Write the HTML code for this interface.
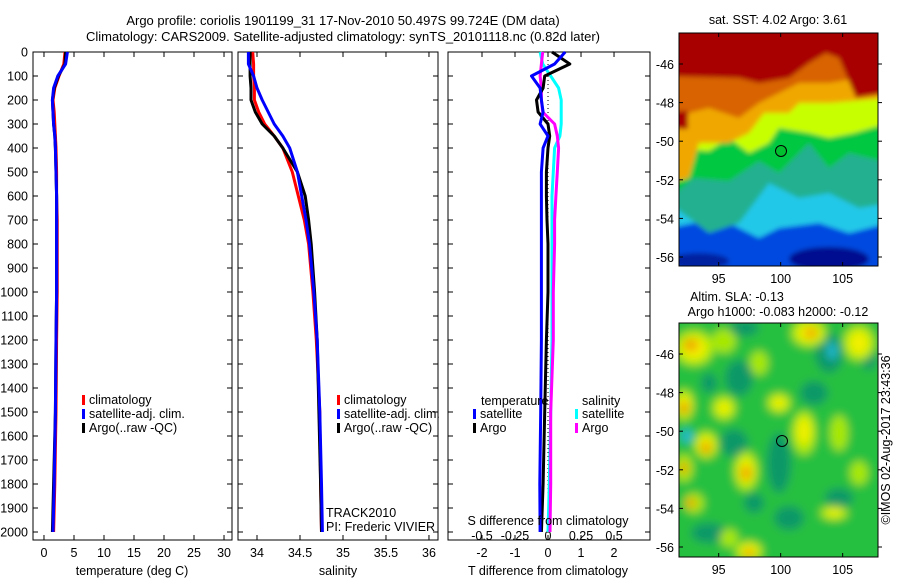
<!DOCTYPE html>
<html><head><meta charset="utf-8"><style>
body{margin:0;background:#fff;}
svg{display:block;font-family:"Liberation Sans",sans-serif;}
text{font-size:12.5px;fill:#000;}
</style></head><body>
<svg id="fig" width="900" height="580" viewBox="0 0 900 580">
<defs>
<filter id="blurA" x="-20%" y="-20%" width="140%" height="140%"><feGaussianBlur stdDeviation="2.5"/></filter>
<filter id="blurB" x="-30%" y="-30%" width="160%" height="160%"><feGaussianBlur stdDeviation="4.5"/></filter>
<clipPath id="clipTop"><rect x="0" y="0" width="199" height="233"/></clipPath>
<clipPath id="clipBot"><rect x="0" y="0" width="199" height="234"/></clipPath>
</defs>
<text x="343" y="25" text-anchor="middle" style="font-size:13px">Argo profile: coriolis 1901199_31 17-Nov-2010 50.497S 99.724E (DM data)</text>
<text x="343" y="41" text-anchor="middle" style="font-size:13px">Climatology: CARS2009. Satellite-adjusted climatology: synTS_20101118.nc (0.82d later)</text>
<g id="panels"></g>

<text x="778" y="24" text-anchor="middle">sat. SST: 4.02 Argo: 3.61</text>
<g transform="translate(679,33)">
<g clip-path="url(#clipTop)"><g filter="url(#blurA)">
<rect x="-10" y="-10" width="220" height="260" fill="#0048e0"/>
<polygon fill="#20c8e8" points="-10,-10 210,-10 210,190 170,200 140,190 100,195 80,205 40,185 -10,195"/>
<ellipse cx="150" cy="226" rx="40" ry="12" fill="#001090"/>
<ellipse cx="20" cy="228" rx="30" ry="8" fill="#0020a0"/>
<polygon fill="#20b090" points="-10,-10 210,-10 210,170 180,175 150,160 120,165 90,150 60,190 30,200 -10,170"/>
<polygon fill="#00c840" points="-10,-10 210,-10 210,130 170,120 150,135 130,110 100,140 80,128 50,148 15,145 -10,165"/>
<polygon fill="#c8ff00" points="-10,-10 210,-10 210,90 175,100 150,105 130,100 100,95 90,110 70,120 50,105 30,118 -10,115"/>
<polygon fill="#f0a800" points="-10,-10 210,-10 210,65 150,70 120,70 110,80 85,80 70,100 50,110 20,110 10,145 -10,150"/>
<polygon fill="#d86400" points="-10,-10 210,-10 210,40 150,50 120,50 100,60 80,70 60,85 30,75 -10,85"/>
<polygon fill="#a80000" points="-10,-10 210,-10 210,60 177,65 160,25 147,20 130,30 110,45 80,50 60,45 -10,43"/>
<rect x="-5" y="78" width="14" height="18" fill="#a80000"/>
</g></g>
<rect x="0" y="0" width="199" height="233" fill="none" stroke="#000" stroke-width="1"/>
<circle cx="102" cy="118" r="5.5" fill="#00c030" stroke="#000" stroke-width="1"/>
</g>
<g id="sstAxes"></g>

<text x="737" y="301" text-anchor="middle">Altim. SLA: -0.13</text>
<text x="778" y="316" text-anchor="middle">Argo h1000: -0.083 h2000: -0.12</text>
<g transform="translate(679,323)">
<g clip-path="url(#clipBot)"><g filter="url(#blurB)">
<rect x="-10" y="-10" width="220" height="260" fill="#28c040"/>
<g fill="#109868">
<ellipse cx="150" cy="30" rx="14" ry="20"/><ellipse cx="60" cy="55" rx="14" ry="18"/><ellipse cx="135" cy="70" rx="14" ry="12"/>
<ellipse cx="55" cy="120" rx="14" ry="14"/><ellipse cx="100" cy="140" rx="12" ry="30"/><ellipse cx="160" cy="175" rx="14" ry="10"/>
<ellipse cx="30" cy="210" rx="18" ry="10"/><ellipse cx="110" cy="195" rx="15" ry="12"/><ellipse cx="75" cy="180" rx="10" ry="10"/>
<ellipse cx="190" cy="35" rx="8" ry="12"/><ellipse cx="65" cy="5" rx="15" ry="8"/><ellipse cx="30" cy="60" rx="8" ry="10"/>
</g>
<g fill="#20b8d0"><ellipse cx="153" cy="28" rx="5" ry="9"/><ellipse cx="8" cy="113" rx="6" ry="7"/></g>
<g fill="#a8e800">
<ellipse cx="15" cy="25" rx="20" ry="18"/><ellipse cx="45" cy="18" rx="12" ry="12"/><ellipse cx="130" cy="10" rx="18" ry="14"/>
<ellipse cx="180" cy="20" rx="16" ry="18"/><ellipse cx="5" cy="82" rx="10" ry="16"/><ellipse cx="45" cy="85" rx="12" ry="12"/>
<ellipse cx="27" cy="122" rx="12" ry="14"/><ellipse cx="67" cy="148" rx="12" ry="20"/><ellipse cx="5" cy="145" rx="9" ry="14"/>
<ellipse cx="15" cy="180" rx="10" ry="10"/><ellipse cx="70" cy="228" rx="14" ry="10"/><ellipse cx="50" cy="215" rx="9" ry="9"/>
<ellipse cx="100" cy="80" rx="12" ry="10"/><ellipse cx="125" cy="110" rx="12" ry="22"/><ellipse cx="160" cy="110" rx="9" ry="18"/>
<ellipse cx="155" cy="190" rx="14" ry="7"/><ellipse cx="180" cy="150" rx="9" ry="12"/><ellipse cx="80" cy="40" rx="9" ry="12"/>
</g>
<g fill="#f0f000">
<ellipse cx="15" cy="25" rx="13" ry="12"/><ellipse cx="130" cy="10" rx="12" ry="9"/><ellipse cx="180" cy="20" rx="10" ry="12"/>
<ellipse cx="5" cy="82" rx="7" ry="10"/><ellipse cx="27" cy="122" rx="8" ry="9"/><ellipse cx="67" cy="148" rx="8" ry="13"/>
<ellipse cx="100" cy="80" rx="7" ry="6"/><ellipse cx="125" cy="108" rx="7" ry="14"/><ellipse cx="70" cy="228" rx="9" ry="7"/>
<ellipse cx="155" cy="190" rx="8" ry="4"/><ellipse cx="45" cy="85" rx="7" ry="7"/>
</g>
<g fill="#f0a000">
<ellipse cx="12" cy="22" rx="7" ry="6"/><ellipse cx="132" cy="10" rx="6" ry="5"/><ellipse cx="5" cy="85" rx="5" ry="6"/>
<ellipse cx="27" cy="125" rx="5" ry="6"/><ellipse cx="67" cy="150" rx="5" ry="7"/><ellipse cx="5" cy="145" rx="4" ry="6"/>
<ellipse cx="12" cy="180" rx="5" ry="5"/><ellipse cx="70" cy="230" rx="5" ry="4"/>
</g>
</g></g>
<rect x="0" y="0" width="199" height="234" fill="none" stroke="#000" stroke-width="1"/>
<circle cx="103" cy="118" r="5.5" fill="none" stroke="#000" stroke-width="1"/>
</g>
<g id="slaAxes"></g>
<text transform="translate(890,440) rotate(-90)" text-anchor="middle">©IMOS 02-Aug-2017 23:43:36</text>
</svg>
<script>
// ---- data ----
const depths = [0, 50, 100, 150, 200, 250, 300, 350, 400, 500, 600, 700, 800, 1000, 1200, 1500, 1800, 2000];
const tempClim = [3.5, 3.3, 2.5, 1.8, 1.5, 1.7, 1.8, 1.9, 2.0, 2.1, 2.1, 2.2, 2.2, 2.2, 2.1, 2.0, 1.8, 1.6];
const tempSat = [3.9, 3.6, 2.3, 1.6, 1.4, 1.5, 1.6, 1.8, 1.9, 2.0, 2.1, 2.1, 2.1, 2.1, 2.0, 1.9, 1.7, 1.5];
const tempArgo = [3.6, 3.5, 2.4, 1.7, 1.4, 1.5, 1.6, 1.8, 1.9, 2.0, 2.1, 2.1, 2.1, 2.1, 2.0, 1.9, 1.6, 1.4];
const salClim = [33.95, 33.96, 33.96, 33.97, 33.97, 34.02, 34.09, 34.2, 34.3, 34.41, 34.48, 34.55, 34.6, 34.65, 34.69, 34.73, 34.74, 34.75];
const salSat = [33.9, 33.9, 33.96, 34.0, 34.06, 34.13, 34.2, 34.3, 34.38, 34.47, 34.52, 34.57, 34.61, 34.66, 34.7, 34.73, 34.75, 34.76];
const salArgo = [33.92, 33.92, 33.92, 33.93, 33.93, 33.98, 34.06, 34.2, 34.3, 34.47, 34.56, 34.6, 34.63, 34.67, 34.7, 34.72, 34.74, 34.75];
const dtSat = [0.52, 0.2, -0.5, -0.24, -0.2, -0.15, -0.24, 0.0, -0.15, -0.2, -0.2, -0.2, -0.2, -0.2, -0.2, -0.22, -0.25, -0.24];
const dtArgo = [0.12, 0.66, -0.1, -0.15, -0.35, -0.3, 0.0, 0.05, 0.0, -0.05, -0.05, -0.03, 0.0, 0.0, -0.05, -0.1, -0.15, -0.2];
const dsSat = [-0.06, -0.04, 0.02, 0.08, 0.1, 0.1, 0.1, 0.09, 0.05, 0.04, 0.03, 0.03, 0.03, 0.03, 0.03, 0.02, 0.01, 0.0];
const dsArgo = [-0.04, -0.05, -0.06, -0.05, -0.05, -0.04, 0.05, 0.07, 0.08, 0.07, 0.06, 0.05, 0.05, 0.04, 0.04, 0.02, 0.02, 0.015];
const depthTicks = [0,100,200,300,400,500,600,700,800,900,1000,1100,1200,1300,1400,1500,1600,1700,1800,1900,2000];
const tempTicks = [0,5,10,15,20,25,30];
const salTicks = [34,34.5,35,35.5,36];
const dtTicks = [-2,-1,0,1,2];
const dsTicks = [-0.5,-0.25,0,0.25,0.5];
const lonTicks = [95,100,105];
const latTicks = [-46,-48,-50,-52,-54,-56];

const NS = 'http://www.w3.org/2000/svg';
const root = document.getElementById('panels');
function el(tag, attrs, parent, txt){ const e=document.createElementNS(NS,tag); for(const k in attrs) e.setAttribute(k,attrs[k]); if(txt!==undefined) e.textContent=txt; (parent||root).appendChild(e); return e; }
const yTop=52, pxPerM=0.24, yBot=540;
const yScale = d => yTop + d*pxPerM;

function panel(name, x0, x1, dmin, dmax){
  const g = el('g',{});
  
  
  const r = el('rect',{x:x0,y:yTop,width:x1-x0,height:yBot-yTop,fill:'none',stroke:'#000','stroke-width':1},g);
  
  
  const xs = v => x0 + (v-dmin)/(dmax-dmin)*(x1-x0);
  return {g, xs};
}
function line(g, xs, vals, color, name, scaleFn){
  const pts = vals.map((v,i)=> (scaleFn?scaleFn(v):xs(v)).toFixed(1)+','+yScale(depths[i]).toFixed(1)).join(' ');
  const p = el('polyline',{points:pts,fill:'none',stroke:color,'stroke-width':3,'stroke-linejoin':'round'},g);
  
  
}
function yticks(g, x0, x1, labels){
  depthTicks.forEach(d=>{
    const y=yScale(d);
    el('line',{x1:x0,y1:y,x2:x0+5,y2:y,stroke:'#000'},g);
    el('line',{x1:x1-5,y1:y,x2:x1,y2:y,stroke:'#000'},g);
    if(labels){ const t=el('text',{x:x0-5,y:y+4.5,'text-anchor':'end'},g,String(d));
      
       }
  });
}
function xticks(g, xs, ticks, fmt, labelY){
  ticks.forEach(v=>{
    const x=xs(v);
    el('line',{x1:x,y1:yBot,x2:x,y2:yBot-5,stroke:'#000'},g);
    el('line',{x1:x,y1:yTop,x2:x,y2:yTop+5,stroke:'#000'},g);
    const t=el('text',{x:x,y:labelY,'text-anchor':'middle'},g,fmt(v));
    
    
  });
}
function legend(g, x, y, items){
  items.forEach((it,i)=>{
    const yy=y+i*14;
    el('rect',{x:x,y:yy-9,width:3,height:10,fill:it[1]},g);
    const t=el('text',{x:x+7,y:yy},g,it[0]);
    
    
  });
}

const P1 = panel('temperature-panel', 33, 232, -1.83, 31.33);
yticks(P1.g, 33, 232, true);
xticks(P1.g, P1.xs, tempTicks, String, 557);
line(P1.g, P1.xs, tempClim, '#ff0000', 'temp-climatology-line');
line(P1.g, P1.xs, tempArgo, '#000000', 'temp-argo-line');
line(P1.g, P1.xs, tempSat, '#0000ff', 'temp-satellite-line');
legend(P1.g, 82, 404, [['climatology','#ff0000'],['satellite-adj. clim.','#0000ff'],['Argo(..raw -QC)','#000000']]);
let t=el('text',{x:132,y:575,'text-anchor':'middle'},P1.g,'temperature (deg C)');
 

const P2 = panel('salinity-panel', 238, 438, 33.779, 36.105);
yticks(P2.g, 238, 438, false);
xticks(P2.g, P2.xs, salTicks, String, 557);
line(P2.g, P2.xs, salClim, '#ff0000', 'sal-climatology-line');
line(P2.g, P2.xs, salArgo, '#000000', 'sal-argo-line');
line(P2.g, P2.xs, salSat, '#0000ff', 'sal-satellite-line');
legend(P2.g, 337, 404, [['climatology','#ff0000'],['satellite-adj. clim.','#0000ff'],['Argo(..raw -QC)','#000000']]);
t=el('text',{x:326,y:517},P2.g,'TRACK2010');  
t=el('text',{x:326,y:531},P2.g,'PI: Frederic VIVIER');  
t=el('text',{x:338,y:575,'text-anchor':'middle'},P2.g,'salinity');  

const P3 = panel('difference-panel', 448, 650, -3.03, 3.09);
const dsScale = v => P3.xs(v*4);
yticks(P3.g, 448, 650, false);
xticks(P3.g, P3.xs, dtTicks, String, 557);
el('line',{x1:P3.xs(0),y1:yTop,x2:P3.xs(0),y2:yBot,stroke:'#000','stroke-dasharray':'1,3'},P3.g);
dsTicks.forEach(v=>{ const tt=el('text',{x:dsScale(v),y:540,'text-anchor':'middle'},P3.g,String(v));
    });
line(P3.g, P3.xs, dsSat, '#00ffff', 's-diff-satellite-line', dsScale);
line(P3.g, P3.xs, dsArgo, '#ff00ff', 's-diff-argo-line', dsScale);
line(P3.g, P3.xs, dtArgo, '#000000', 't-diff-argo-line');
line(P3.g, P3.xs, dtSat, '#0000ff', 't-diff-satellite-line');
t=el('text',{x:548,y:525,'text-anchor':'middle'},P3.g,'S difference from climatology');  
t=el('text',{x:548,y:575,'text-anchor':'middle'},P3.g,'T difference from climatology');  
t=el('text',{x:481,y:405},P3.g,'temperature');  
t=el('text',{x:582,y:405},P3.g,'salinity');  
legend(P3.g, 473, 418, [['satellite','#0000ff'],['Argo','#000000']]);
legend(P3.g, 575, 418, [['satellite','#00ffff'],['Argo','#ff00ff']]);

function mapAxes(gid, x0, y0, w, h, ySc){
  const g=document.getElementById(gid);
  const lonS = v => x0 + (v-91.8)/(107.85-91.8)*w;
  lonTicks.forEach(v=>{ const x=lonS(v);
    el('line',{x1:x,y1:y0+h,x2:x,y2:y0+h-4,stroke:'#000'},g);
    el('line',{x1:x,y1:y0,x2:x,y2:y0+4,stroke:'#000'},g);
    const tt=el('text',{x:x,y:y0+h+17,'text-anchor':'middle'},g,String(v));
      });
  latTicks.forEach(v=>{ const y=ySc(v);
    el('line',{x1:x0,y1:y,x2:x0+4,y2:y,stroke:'#000'},g);
    el('line',{x1:x0+w,y1:y,x2:x0+w+4,y2:y,stroke:'#000'},g);
    const tt=el('text',{x:x0-5,y:y+5,'text-anchor':'end'},g,String(v));
      });
}
mapAxes('sstAxes', 679, 33, 199, 233, v => 64 + (-46 - v)/10*193);
mapAxes('slaAxes', 679, 323, 199, 234, v => 354 + (-46 - v)/10*193);
</script>
</body></html>
